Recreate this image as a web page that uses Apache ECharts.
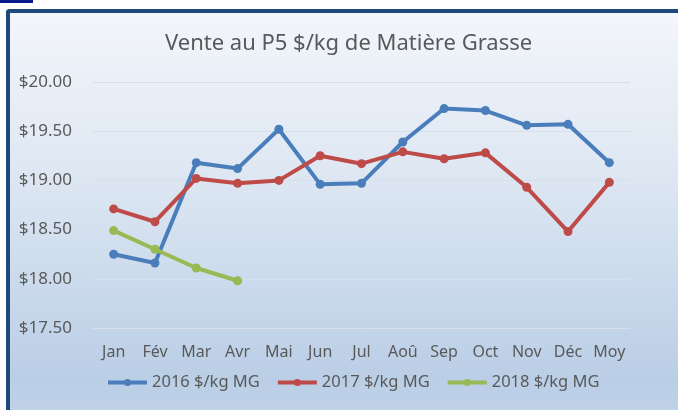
<!DOCTYPE html>
<html>
<head>
<meta charset="utf-8">
<script src="https://cdn.jsdelivr.net/npm/echarts@6/dist/echarts.min.js"></script>
<style>
  html, body { margin: 0; padding: 0; background: #ffffff; }
  .wrap { position: relative; width: 678px; height: 410px; overflow: hidden; }
  .tab { position: absolute; left: 0; top: 0; width: 33px; height: 3px; background: #0a1a8c; }
  .frame {
    position: absolute; left: 6px; top: 9px; width: 700px; height: 430px;
    border-left: 4px solid #1f497d; border-top: 4px solid #1f497d;
    border-top-left-radius: 4px;
    background: linear-gradient(to bottom, #f3f6fb 0%, #dce6f2 40%, #bacee6 85%, #c3d5ea 100%);
  }
  #chart { position: absolute; left: 0; top: 0; width: 678px; height: 410px; }
</style>
</head>
<body>
<div class="wrap">
  <div class="tab"></div>
  <div class="frame"></div>
  <div id="chart"></div>
</div>
<script>
// mois
const months = ['Jan', 'Fév', 'Mar', 'Avr', 'Mai', 'Jun', 'Jul', 'Aoû', 'Sep', 'Oct', 'Nov', 'Déc', 'Moy'];
// prix $/kg MG
const v2016 = [18.25, 18.16, 19.18, 19.12, 19.52, 18.96, 18.97, 19.39, 19.73, 19.71, 19.56, 19.57, 19.18];
const v2017 = [18.71, 18.58, 19.02, 18.97, 19.00, 19.25, 19.17, 19.29, 19.22, 19.28, 18.93, 18.48, 18.98];
const v2018 = [18.49, 18.30, 18.11, 17.98];
const seriesNames = ['2016 $/kg MG', '2017 $/kg MG', '2018 $/kg MG'];

const font = 'Noto Sans';
const grey = '#595959';

const myChart = echarts.init(document.getElementById('chart'));

function line(name, data, color) {
  return {
    name: name,
    type: 'line',
    data: data,
    symbol: 'circle',
    symbolSize: 9,
    lineStyle: { color: color, width: 4 },
    itemStyle: { color: color },
    emphasis: { disabled: true }
  };
}

const option = {
  animation: false,
  backgroundColor: 'transparent',
  title: {
    text: 'Vente au P5 $/kg de Matière Grasse',
    left: 160,
    top: 28,
    textStyle: { fontFamily: font, fontSize: 22, fontWeight: 'normal', color: grey }
  },
  grid: { left: 93, right: 48, top: 82, bottom: 82 },
  legend: {
    top: 369,
    left: 101,
    itemWidth: 39,
    itemHeight: 9,
    itemGap: 16,
    lineStyle: { width: 4 },
    textStyle: { fontFamily: font, fontSize: 16.5, color: grey }
  },
  xAxis: {
    type: 'category',
    data: months,
    axisLine: { show: false },
    axisTick: { show: false },
    axisLabel: { interval: 0, fontFamily: font, fontSize: 16, color: grey, margin: 16 }
  },
  yAxis: {
    type: 'value',
    min: 17.5,
    max: 20,
    interval: 0.5,
    axisLabel: {
      fontFamily: font, fontSize: 17, color: grey, margin: 21,
      formatter: function (v) { return '$' + v.toFixed(2); }
    },
    splitLine: { lineStyle: { color: '#d6dfeb', width: 1 } }
  },
  series: [
    line(seriesNames[0], v2016, '#4a7ebb'),
    line(seriesNames[1], v2017, '#be4b48'),
    line(seriesNames[2], v2018, '#98b954')
  ]
};

myChart.setOption(option);
</script>
</body>
</html>
